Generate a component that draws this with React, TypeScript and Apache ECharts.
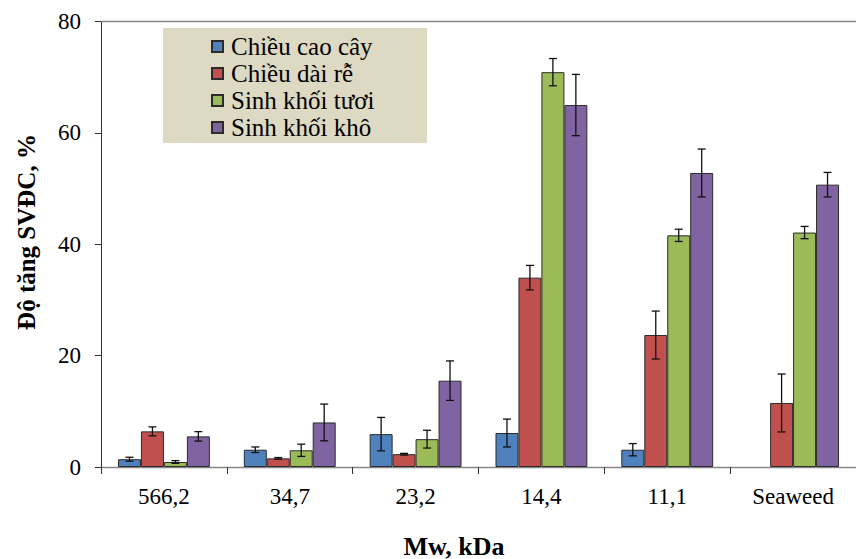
import React, { useEffect, useRef } from "react";
import * as echarts from "echarts";

const categories = ["566,2", "34,7", "23,2", "14,4", "11,1", "Seaweed"];
const seriesNames = ["Chiều cao cây", "Chiều dài rễ", "Sinh khối tươi", "Sinh khối khô"];
const colors = ["#4F81BD", "#C0504D", "#9BBB59", "#8064A2"];

const chieuCaoCay = [1.4, 3.1, 5.9, 6.1, 3.1, null];
const chieuCaoCayErr = [0.35, 0.5, 3.0, 2.5, 1.1, null];
const chieuDaiRe = [6.4, 1.55, 2.3, 34.0, 23.7, 11.5];
const chieuDaiReErr = [0.8, 0.15, 0.15, 2.2, 4.3, 5.2];
const sinhKhoiTuoi = [0.9, 3.0, 5.0, 70.9, 41.6, 42.1];
const sinhKhoiTuoiErr = [0.24, 1.1, 1.6, 2.45, 1.1, 1.1];
const sinhKhoiKho = [5.5, 8.0, 15.5, 65.0, 52.8, 50.7];
const sinhKhoiKhoErr = [0.85, 3.3, 3.55, 5.5, 4.3, 2.2];

const yTicks = [0, 20, 40, 60, 80];

const values = [chieuCaoCay, chieuDaiRe, sinhKhoiTuoi, sinhKhoiKho];
const errors = [chieuCaoCayErr, chieuDaiReErr, sinhKhoiTuoiErr, sinhKhoiKhoErr];

const GAP = 0.27;
const FONT = "Liberation Serif";

export default function App() {
  const ref = useRef<HTMLDivElement>(null);
  useEffect(() => {
    if (!ref.current) return;
    const chart = echarts.init(ref.current, null, { renderer: "svg" });
    const n = seriesNames.length;

    const barSeries = seriesNames.map((name, si) => ({
      name,
      type: "bar",
      xAxisIndex: 0,
      barGap: "0%",
      barCategoryGap: GAP * 100 + "%",
      itemStyle: { color: colors[si], borderColor: "#2b2b2b", borderWidth: 1 },
      data: values[si].map((v) => (v == null ? "-" : v)),
      z: 2,
    }));

    const errSeries = seriesNames.map((name, si) => ({
      name: "err-" + si,
      type: "custom",
      xAxisIndex: 0,
      silent: true,
      z: 5,
      data: values[si]
        .map((v, i) => (v == null ? null : [i, v, errors[si][i]]))
        .filter((d) => d != null),
      renderItem: (params: any, api: any) => {
        const cat = api.value(0);
        const v = api.value(1);
        const e = api.value(2);
        const W = api.size([1, 0])[0];
        const bw = (W * (1 - GAP)) / n;
        const x = api.coord([cat, 0])[0] - (W * (1 - GAP)) / 2 + bw * (si + 0.5);
        const yTop = api.coord([cat, v + e])[1];
        const yBot = api.coord([cat, v - e])[1];
        const cw = 4;
        const style = { stroke: "#111", lineWidth: 1.3 };
        return {
          type: "group",
          children: [
            { type: "line", shape: { x1: x, y1: yTop, x2: x, y2: yBot }, style },
            { type: "line", shape: { x1: x - cw, y1: yTop, x2: x + cw, y2: yTop }, style },
            { type: "line", shape: { x1: x - cw, y1: yBot, x2: x + cw, y2: yBot }, style },
          ],
        };
      },
    }));

    const option: any = {
      animation: false,
      backgroundColor: "#ffffff",
      textStyle: { fontFamily: FONT },
      grid: { left: 101, top: 21.5, width: 763, height: 445.5, containLabel: false },
      legend: {
        data: seriesNames.map((name) => ({ name, icon: "rect" })),
        orient: "vertical",
        left: 211,
        top: 33,
        padding: 0,
        itemGap: 0,
        itemWidth: 11,
        itemHeight: 11,
        selectedMode: false,
        textStyle: {
          fontFamily: FONT,
          fontSize: 25,
          color: "#000",
          lineHeight: 27,
          padding: [0, 0, 0, 3],
        },
        z: 10,
      },
      graphic: [
        {
          type: "rect",
          z: 1,
          shape: { x: 163, y: 28, width: 264, height: 115 },
          style: { fill: "#DDD9C3" },
        },
        {
          type: "text",
          x: 26,
          y: 232,
          rotation: Math.PI / 2,
          style: {
            text: "Độ tăng SVĐC, %",
            fontFamily: FONT,
            fontSize: 25,
            fontWeight: "bold",
            fill: "#000",
            align: "center",
            verticalAlign: "middle",
          },
        },
        {
          type: "text",
          x: 454,
          y: 546,
          style: {
            text: "Mw, kDa",
            fontFamily: FONT,
            fontSize: 26,
            fontWeight: "bold",
            fill: "#000",
            align: "center",
            verticalAlign: "middle",
          },
        },
      ],
      xAxis: [
        {
          type: "category",
          data: categories,
          position: "bottom",
          axisLine: { show: true, lineStyle: { color: "#868686", width: 1.3 } },
          axisTick: { show: true, length: 7, lineStyle: { color: "#333", width: 1 } },
          axisLabel: { fontFamily: FONT, fontSize: 23, color: "#000", margin: 18 },
          splitLine: { show: false },
        },
        {
          type: "category",
          data: categories,
          position: "top",
          axisLine: { show: true, lineStyle: { color: "#868686", width: 1.3 } },
          axisTick: { show: false },
          axisLabel: { show: false },
          splitLine: { show: false },
        },
      ],
      yAxis: {
        type: "value",
        min: yTicks[0],
        max: yTicks[yTicks.length - 1],
        interval: 20,
        axisLine: { show: true, lineStyle: { color: "#333", width: 1 } },
        axisTick: { show: true, length: 6, lineStyle: { color: "#333" } },
        axisLabel: { fontFamily: FONT, fontSize: 23, color: "#000", margin: 20 },
        splitLine: { show: false },
      },
      series: [...barSeries, ...errSeries],
    };
    chart.setOption(option);
    return () => chart.dispose();
  }, []);

  return (
    <div
      ref={ref}
      style={{ position: "fixed", left: 0, top: 0, width: 856, height: 559, background: "#fff" }}
    />
  );
}
